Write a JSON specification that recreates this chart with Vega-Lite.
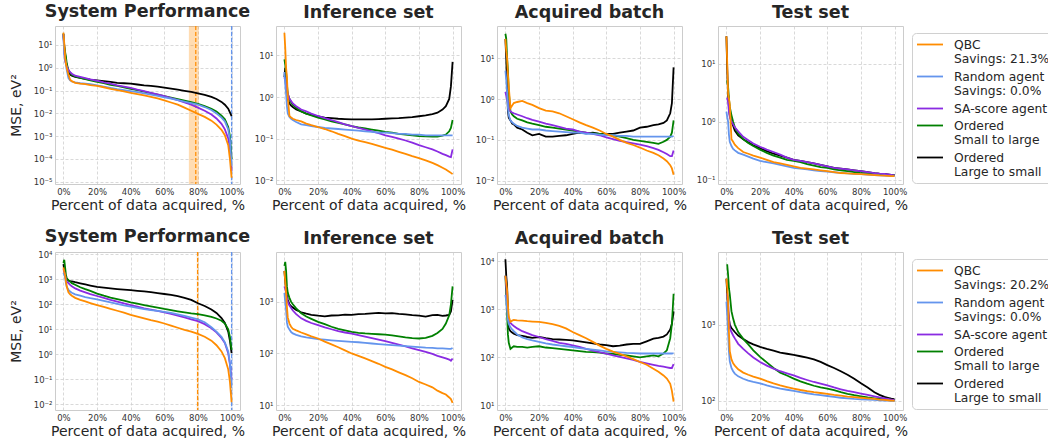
{
  "$schema": "https://vega.github.io/schema/vega-lite/v6.json",
  "background": "white",
  "padding": {"top": 2, "left": 8, "right": 0, "bottom": 0},
  "config": {
    "font": "DejaVu Sans",
    "view": {"stroke": "#cccccc", "strokeWidth": 1},
    "axis": {"domain": false, "ticks": false, "gridColor": "#cfcfcf", "gridDash": [3, 2], "gridWidth": 0.8, "labelColor": "#333333", "labelFontSize": 8.5, "labelPadding": 3, "titleColor": "#262626", "titleFontSize": 14, "titleFontWeight": "normal", "labelFlush": false},
    "axisX": {"titlePadding": 3},
    "axisY": {"titlePadding": 10},
    "title": {"fontSize": 17.5, "fontWeight": "bold", "color": "#262626", "offset": 5},
    "legend": {"orient": "none", "legendX": 857, "legendY": 7, "strokeColor": "#d0d0d0", "cornerRadius": 4, "padding": 4, "symbolType": "M-1,0H3", "symbolSize": 169, "symbolStrokeWidth": 2, "labelFontSize": 12.3, "labelColor": "#262626", "labelOffset": 23, "rowPadding": 3, "labelLimit": 300},
    "line": {"strokeWidth": 1.8, "clip": true}
  },
  "datasets": {
    "a1": [
      {"x":0,"Q":35,"R":30,"S":30,"G":32,"B":30},
      {"x":0.5,"Q":12,"R":4,"S":5,"G":8,"B":10},
      {"x":1,"Q":3,"R":2.5,"S":2,"G":5,"B":4},
      {"x":1.5,"Q":1.5,"R":1.5,"S":1.5,"G":3,"B":2},
      {"x":2,"Q":1,"R":0.8,"S":1.2,"G":1.5,"B":1.2},
      {"x":3,"Q":0.5,"R":0.35,"S":0.8,"G":0.8,"B":0.7},
      {"x":4,"Q":0.3,"R":0.28,"S":0.65,"G":0.6,"B":0.5},
      {"x":5,"Q":0.26,"R":0.25,"S":0.55,"G":0.5,"B":0.45},
      {"x":7,"Q":0.22,"R":0.23,"S":0.45,"G":0.42,"B":0.4},
      {"x":10,"Q":0.2,"R":0.21,"S":0.4,"G":0.36,"B":0.36},
      {"x":13,"Q":0.19,"R":0.2,"S":0.35,"G":0.32,"B":0.33},
      {"x":16,"Q":0.175,"R":0.19,"S":0.31,"G":0.28,"B":0.3},
      {"x":20,"Q":0.16,"R":0.17,"S":0.27,"G":0.24,"B":0.28},
      {"x":24,"Q":0.14,"R":0.15,"S":0.23,"G":0.21,"B":0.26},
      {"x":28,"Q":0.12,"R":0.13,"S":0.2,"G":0.18,"B":0.24},
      {"x":32,"Q":0.105,"R":0.115,"S":0.17,"G":0.16,"B":0.22},
      {"x":36,"Q":0.092,"R":0.105,"S":0.15,"G":0.14,"B":0.21},
      {"x":40,"Q":0.08,"R":0.095,"S":0.13,"G":0.12,"B":0.2},
      {"x":44,"Q":0.07,"R":0.085,"S":0.11,"G":0.105,"B":0.185},
      {"x":48,"Q":0.061,"R":0.075,"S":0.095,"G":0.09,"B":0.17},
      {"x":52,"Q":0.053,"R":0.066,"S":0.08,"G":0.078,"B":0.16},
      {"x":56,"Q":0.045,"R":0.058,"S":0.068,"G":0.067,"B":0.148},
      {"x":60,"Q":0.037,"R":0.05,"S":0.057,"G":0.057,"B":0.135},
      {"x":64,"Q":0.03,"R":0.044,"S":0.047,"G":0.049,"B":0.122},
      {"x":68,"Q":0.024,"R":0.038,"S":0.038,"G":0.042,"B":0.11},
      {"x":72,"Q":0.018,"R":0.033,"S":0.03,"G":0.036,"B":0.098},
      {"x":76,"Q":0.013,"R":0.028,"S":0.024,"G":0.031,"B":0.087},
      {"x":80,"Q":0.0095,"R":0.024,"S":0.018,"G":0.026,"B":0.076},
      {"x":84,"Q":0.007,"R":0.019,"S":0.013,"G":0.021,"B":0.065},
      {"x":88,"Q":0.0048,"R":0.014,"S":0.009,"G":0.016,"B":0.053},
      {"x":91,"Q":0.0032,"R":0.01,"S":0.006,"G":0.012,"B":0.043},
      {"x":94,"Q":0.0019,"R":0.0065,"S":0.0035,"G":0.008,"B":0.032},
      {"x":96,"Q":0.0011,"R":0.0045,"S":0.002,"G":0.0055,"B":0.024},
      {"x":98,"Q":0.0004,"R":0.002,"S":0.0008,"G":0.0025,"B":0.016},
      {"x":99,"Q":0.0001,"R":0.0007,"S":0.0003,"G":0.001,"B":0.011},
      {"x":100,"Q":0.000015,"R":0.00005,"S":0.00003,"G":0.0001,"B":0.0075}
    ],
    "a2": [
      {"x":0,"Q":35,"R":4,"S":3,"G":8,"B":3},
      {"x":0.5,"Q":15,"R":2,"S":2.5,"G":6,"B":5},
      {"x":1,"Q":5,"R":1.2,"S":2,"G":4,"B":2},
      {"x":1.5,"Q":3,"R":0.6,"S":1.5,"G":2,"B":1.2},
      {"x":2,"Q":1,"R":0.4,"S":1.2,"G":1.2,"B":0.9},
      {"x":3,"Q":0.35,"R":0.33,"S":0.9,"G":0.9,"B":0.7},
      {"x":4,"Q":0.32,"R":0.3,"S":0.8,"G":0.75,"B":0.62},
      {"x":5,"Q":0.3,"R":0.28,"S":0.7,"G":0.65,"B":0.57},
      {"x":7,"Q":0.28,"R":0.25,"S":0.6,"G":0.55,"B":0.5},
      {"x":10,"Q":0.26,"R":0.22,"S":0.5,"G":0.45,"B":0.45},
      {"x":13,"Q":0.23,"R":0.21,"S":0.45,"G":0.4,"B":0.4},
      {"x":16,"Q":0.21,"R":0.2,"S":0.4,"G":0.36,"B":0.37},
      {"x":20,"Q":0.19,"R":0.19,"S":0.35,"G":0.32,"B":0.34},
      {"x":24,"Q":0.17,"R":0.18,"S":0.31,"G":0.29,"B":0.32},
      {"x":28,"Q":0.15,"R":0.175,"S":0.28,"G":0.26,"B":0.31},
      {"x":32,"Q":0.13,"R":0.17,"S":0.25,"G":0.24,"B":0.3},
      {"x":36,"Q":0.115,"R":0.165,"S":0.22,"G":0.22,"B":0.295},
      {"x":40,"Q":0.1,"R":0.16,"S":0.2,"G":0.2,"B":0.29},
      {"x":44,"Q":0.09,"R":0.155,"S":0.18,"G":0.185,"B":0.29},
      {"x":48,"Q":0.082,"R":0.15,"S":0.165,"G":0.175,"B":0.29},
      {"x":52,"Q":0.075,"R":0.145,"S":0.15,"G":0.165,"B":0.29},
      {"x":56,"Q":0.067,"R":0.14,"S":0.135,"G":0.155,"B":0.295},
      {"x":60,"Q":0.06,"R":0.14,"S":0.12,"G":0.145,"B":0.3},
      {"x":64,"Q":0.054,"R":0.135,"S":0.11,"G":0.14,"B":0.305},
      {"x":68,"Q":0.048,"R":0.13,"S":0.1,"G":0.13,"B":0.31},
      {"x":72,"Q":0.043,"R":0.13,"S":0.09,"G":0.125,"B":0.32},
      {"x":76,"Q":0.038,"R":0.125,"S":0.08,"G":0.12,"B":0.33},
      {"x":80,"Q":0.034,"R":0.125,"S":0.07,"G":0.115,"B":0.345},
      {"x":84,"Q":0.03,"R":0.12,"S":0.062,"G":0.113,"B":0.36},
      {"x":88,"Q":0.026,"R":0.12,"S":0.055,"G":0.112,"B":0.39},
      {"x":91,"Q":0.023,"R":0.12,"S":0.049,"G":0.112,"B":0.42},
      {"x":94,"Q":0.02,"R":0.12,"S":0.043,"G":0.118,"B":0.5},
      {"x":96,"Q":0.018,"R":0.12,"S":0.04,"G":0.125,"B":0.6},
      {"x":98,"Q":0.016,"R":0.12,"S":0.037,"G":0.15,"B":0.9},
      {"x":99,"Q":0.015,"R":0.12,"S":0.036,"G":0.18,"B":1.8},
      {"x":100,"Q":0.014,"R":0.12,"S":0.055,"G":0.28,"B":7}
    ],
    "a3": [
      {"x":0,"Q":30,"R":5,"S":1.5,"G":40,"B":30},
      {"x":0.5,"Q":15,"R":3,"S":1.2,"G":30,"B":10},
      {"x":1,"Q":10,"R":1.5,"S":1,"G":10,"B":2},
      {"x":1.5,"Q":4,"R":0.6,"S":0.8,"G":5,"B":0.5},
      {"x":2,"Q":2,"R":0.4,"S":0.6,"G":1.5,"B":0.35},
      {"x":3,"Q":0.6,"R":0.3,"S":0.5,"G":0.5,"B":0.3},
      {"x":4,"Q":0.7,"R":0.27,"S":0.47,"G":0.42,"B":0.25},
      {"x":5,"Q":0.8,"R":0.25,"S":0.45,"G":0.38,"B":0.24},
      {"x":7,"Q":0.85,"R":0.22,"S":0.42,"G":0.33,"B":0.2},
      {"x":10,"Q":0.9,"R":0.2,"S":0.38,"G":0.3,"B":0.18},
      {"x":13,"Q":0.8,"R":0.19,"S":0.34,"G":0.27,"B":0.15},
      {"x":16,"Q":0.72,"R":0.18,"S":0.31,"G":0.25,"B":0.13},
      {"x":20,"Q":0.6,"R":0.18,"S":0.28,"G":0.23,"B":0.14},
      {"x":24,"Q":0.52,"R":0.17,"S":0.25,"G":0.21,"B":0.12},
      {"x":28,"Q":0.5,"R":0.165,"S":0.23,"G":0.2,"B":0.12},
      {"x":32,"Q":0.45,"R":0.16,"S":0.21,"G":0.19,"B":0.125},
      {"x":36,"Q":0.38,"R":0.155,"S":0.19,"G":0.18,"B":0.13},
      {"x":40,"Q":0.32,"R":0.15,"S":0.18,"G":0.17,"B":0.14},
      {"x":44,"Q":0.27,"R":0.15,"S":0.16,"G":0.16,"B":0.15},
      {"x":48,"Q":0.23,"R":0.14,"S":0.15,"G":0.15,"B":0.145},
      {"x":52,"Q":0.2,"R":0.14,"S":0.14,"G":0.145,"B":0.15},
      {"x":56,"Q":0.17,"R":0.135,"S":0.13,"G":0.14,"B":0.14},
      {"x":60,"Q":0.14,"R":0.13,"S":0.115,"G":0.135,"B":0.14},
      {"x":64,"Q":0.12,"R":0.13,"S":0.105,"G":0.13,"B":0.14},
      {"x":68,"Q":0.1,"R":0.125,"S":0.095,"G":0.12,"B":0.15},
      {"x":72,"Q":0.085,"R":0.125,"S":0.088,"G":0.11,"B":0.16},
      {"x":76,"Q":0.075,"R":0.12,"S":0.082,"G":0.1,"B":0.17},
      {"x":80,"Q":0.065,"R":0.12,"S":0.077,"G":0.095,"B":0.2},
      {"x":84,"Q":0.055,"R":0.12,"S":0.07,"G":0.09,"B":0.21},
      {"x":88,"Q":0.048,"R":0.12,"S":0.063,"G":0.085,"B":0.23},
      {"x":91,"Q":0.042,"R":0.12,"S":0.057,"G":0.08,"B":0.24},
      {"x":94,"Q":0.035,"R":0.12,"S":0.05,"G":0.09,"B":0.26},
      {"x":96,"Q":0.03,"R":0.12,"S":0.045,"G":0.1,"B":0.3},
      {"x":98,"Q":0.024,"R":0.12,"S":0.04,"G":0.12,"B":0.45},
      {"x":99,"Q":0.02,"R":0.12,"S":0.04,"G":0.15,"B":0.8},
      {"x":100,"Q":0.014,"R":0.125,"S":0.055,"G":0.3,"B":6}
    ],
    "a4": [
      {"x":0,"Q":30,"R":1.5,"S":2.5,"G":5,"B":30},
      {"x":0.5,"Q":10,"R":1.2,"S":2.5,"G":5,"B":8},
      {"x":1,"Q":3,"R":1,"S":2.2,"G":4,"B":3},
      {"x":1.5,"Q":2.5,"R":0.6,"S":1.5,"G":2.5,"B":1.8},
      {"x":2,"Q":2,"R":0.45,"S":1.2,"G":1.8,"B":1.3},
      {"x":3,"Q":0.5,"R":0.38,"S":1,"G":1.3,"B":1},
      {"x":4,"Q":0.45,"R":0.34,"S":0.9,"G":1,"B":0.85},
      {"x":5,"Q":0.4,"R":0.32,"S":0.8,"G":0.8,"B":0.7},
      {"x":7,"Q":0.35,"R":0.29,"S":0.68,"G":0.62,"B":0.58},
      {"x":10,"Q":0.3,"R":0.27,"S":0.55,"G":0.5,"B":0.5},
      {"x":13,"Q":0.28,"R":0.25,"S":0.48,"G":0.43,"B":0.44},
      {"x":16,"Q":0.26,"R":0.23,"S":0.42,"G":0.38,"B":0.39},
      {"x":20,"Q":0.24,"R":0.21,"S":0.37,"G":0.33,"B":0.35},
      {"x":24,"Q":0.22,"R":0.2,"S":0.33,"G":0.29,"B":0.31},
      {"x":28,"Q":0.2,"R":0.19,"S":0.3,"G":0.26,"B":0.28},
      {"x":32,"Q":0.19,"R":0.18,"S":0.27,"G":0.24,"B":0.26},
      {"x":36,"Q":0.18,"R":0.17,"S":0.24,"G":0.22,"B":0.24},
      {"x":40,"Q":0.17,"R":0.16,"S":0.22,"G":0.21,"B":0.22},
      {"x":44,"Q":0.16,"R":0.155,"S":0.21,"G":0.2,"B":0.21},
      {"x":48,"Q":0.155,"R":0.15,"S":0.2,"G":0.185,"B":0.2},
      {"x":52,"Q":0.15,"R":0.145,"S":0.19,"G":0.175,"B":0.19},
      {"x":56,"Q":0.145,"R":0.14,"S":0.18,"G":0.165,"B":0.18},
      {"x":60,"Q":0.14,"R":0.137,"S":0.17,"G":0.16,"B":0.17},
      {"x":64,"Q":0.135,"R":0.134,"S":0.16,"G":0.15,"B":0.16},
      {"x":68,"Q":0.13,"R":0.131,"S":0.155,"G":0.145,"B":0.155},
      {"x":72,"Q":0.128,"R":0.128,"S":0.15,"G":0.14,"B":0.15},
      {"x":76,"Q":0.126,"R":0.126,"S":0.145,"G":0.135,"B":0.145},
      {"x":80,"Q":0.124,"R":0.124,"S":0.14,"G":0.13,"B":0.14},
      {"x":84,"Q":0.122,"R":0.122,"S":0.135,"G":0.128,"B":0.135},
      {"x":88,"Q":0.12,"R":0.12,"S":0.13,"G":0.126,"B":0.13},
      {"x":91,"Q":0.118,"R":0.118,"S":0.127,"G":0.124,"B":0.127},
      {"x":94,"Q":0.117,"R":0.117,"S":0.125,"G":0.122,"B":0.125},
      {"x":96,"Q":0.116,"R":0.116,"S":0.123,"G":0.121,"B":0.123},
      {"x":98,"Q":0.115,"R":0.115,"S":0.121,"G":0.12,"B":0.121},
      {"x":99,"Q":0.115,"R":0.115,"S":0.12,"G":0.12,"B":0.12},
      {"x":100,"Q":0.115,"R":0.115,"S":0.12,"G":0.12,"B":0.12}
    ],
    "b1": [
      {"x":0,"Q":3000,"R":1800,"S":2500,"G":4500,"B":4000},
      {"x":0.5,"Q":2000,"R":1500,"S":2000,"G":6000,"B":2500},
      {"x":1,"Q":1500,"R":1200,"S":1500,"G":3000,"B":1500},
      {"x":1.5,"Q":800,"R":700,"S":1000,"G":1500,"B":1200},
      {"x":2,"Q":500,"R":500,"S":800,"G":1100,"B":1000},
      {"x":3,"Q":300,"R":380,"S":700,"G":900,"B":900},
      {"x":4,"Q":250,"R":320,"S":600,"G":800,"B":850},
      {"x":5,"Q":220,"R":290,"S":520,"G":700,"B":830},
      {"x":7,"Q":180,"R":250,"S":430,"G":600,"B":760},
      {"x":10,"Q":150,"R":220,"S":350,"G":480,"B":690},
      {"x":13,"Q":130,"R":195,"S":300,"G":400,"B":620},
      {"x":16,"Q":112,"R":175,"S":255,"G":340,"B":560},
      {"x":20,"Q":93,"R":158,"S":214,"G":268,"B":494},
      {"x":24,"Q":78,"R":137,"S":180,"G":220,"B":460},
      {"x":28,"Q":65,"R":118,"S":150,"G":185,"B":430},
      {"x":32,"Q":55,"R":103,"S":128,"G":160,"B":405},
      {"x":36,"Q":46,"R":90,"S":108,"G":140,"B":385},
      {"x":40,"Q":38,"R":80,"S":93,"G":120,"B":365},
      {"x":44,"Q":32,"R":71,"S":80,"G":105,"B":345},
      {"x":48,"Q":27,"R":64,"S":69,"G":93,"B":325},
      {"x":52,"Q":23,"R":58,"S":61,"G":83,"B":305},
      {"x":56,"Q":20,"R":54,"S":54,"G":74,"B":280},
      {"x":60,"Q":17,"R":50,"S":47,"G":65,"B":257},
      {"x":64,"Q":14,"R":45,"S":41,"G":58,"B":235},
      {"x":68,"Q":11.5,"R":39,"S":35,"G":52,"B":210},
      {"x":72,"Q":9.5,"R":34,"S":30,"G":47,"B":180},
      {"x":76,"Q":8,"R":29,"S":25,"G":43,"B":150},
      {"x":80,"Q":6.5,"R":25,"S":21,"G":40,"B":110},
      {"x":84,"Q":5,"R":19,"S":16,"G":36,"B":85},
      {"x":88,"Q":3.5,"R":12,"S":11,"G":31,"B":62},
      {"x":91,"Q":2.3,"R":8,"S":7.5,"G":27,"B":45},
      {"x":94,"Q":1.3,"R":5,"S":4.5,"G":22,"B":28},
      {"x":96,"Q":0.7,"R":3,"S":2.8,"G":17,"B":18},
      {"x":98,"Q":0.25,"R":1.3,"S":1.1,"G":10,"B":8},
      {"x":99,"Q":0.08,"R":0.45,"S":0.4,"G":5,"B":3.5},
      {"x":100,"Q":0.012,"R":0.06,"S":0.1,"G":1.5,"B":1.1}
    ],
    "b2": [
      {"x":0,"Q":4000,"R":1500,"S":2000,"G":5000,"B":4000},
      {"x":0.5,"Q":2500,"R":1000,"S":1800,"G":6000,"B":2500},
      {"x":1,"Q":1500,"R":700,"S":1500,"G":4000,"B":1800},
      {"x":1.5,"Q":800,"R":400,"S":1200,"G":2000,"B":1300},
      {"x":2,"Q":500,"R":330,"S":1000,"G":1500,"B":1100},
      {"x":3,"Q":380,"R":290,"S":850,"G":1200,"B":900},
      {"x":4,"Q":330,"R":260,"S":760,"G":1000,"B":820},
      {"x":5,"Q":300,"R":245,"S":680,"G":900,"B":780},
      {"x":7,"Q":280,"R":230,"S":580,"G":750,"B":700},
      {"x":10,"Q":255,"R":215,"S":480,"G":600,"B":630},
      {"x":13,"Q":235,"R":205,"S":430,"G":520,"B":590},
      {"x":16,"Q":215,"R":198,"S":390,"G":470,"B":560},
      {"x":20,"Q":195,"R":190,"S":354,"G":410,"B":540},
      {"x":24,"Q":170,"R":185,"S":320,"G":370,"B":525},
      {"x":28,"Q":150,"R":180,"S":295,"G":330,"B":545},
      {"x":32,"Q":132,"R":176,"S":270,"G":300,"B":550},
      {"x":36,"Q":115,"R":172,"S":255,"G":280,"B":565},
      {"x":40,"Q":100,"R":168,"S":243,"G":262,"B":560},
      {"x":44,"Q":90,"R":165,"S":228,"G":252,"B":580},
      {"x":48,"Q":80,"R":160,"S":212,"G":245,"B":585},
      {"x":52,"Q":71,"R":156,"S":198,"G":240,"B":600},
      {"x":56,"Q":63,"R":152,"S":185,"G":236,"B":615},
      {"x":60,"Q":55,"R":148,"S":173,"G":232,"B":600},
      {"x":64,"Q":49,"R":145,"S":160,"G":225,"B":605},
      {"x":68,"Q":43,"R":142,"S":148,"G":215,"B":585},
      {"x":72,"Q":38,"R":139,"S":137,"G":205,"B":575},
      {"x":76,"Q":33,"R":136,"S":126,"G":198,"B":555},
      {"x":80,"Q":28,"R":133,"S":116,"G":195,"B":540},
      {"x":84,"Q":25,"R":130,"S":107,"G":200,"B":520},
      {"x":88,"Q":22,"R":128,"S":98,"G":220,"B":555},
      {"x":91,"Q":19,"R":126,"S":90,"G":250,"B":560},
      {"x":94,"Q":17,"R":125,"S":84,"G":300,"B":535},
      {"x":96,"Q":16,"R":124,"S":80,"G":380,"B":545},
      {"x":98,"Q":14,"R":123,"S":76,"G":550,"B":560},
      {"x":99,"Q":13,"R":123,"S":72,"G":900,"B":650},
      {"x":100,"Q":11,"R":128,"S":80,"G":2000,"B":1100}
    ],
    "b3": [
      {"x":0,"Q":5000,"R":2000,"S":5000,"G":5000,"B":11000},
      {"x":0.5,"Q":3500,"R":1500,"S":3000,"G":2000,"B":5000},
      {"x":1,"Q":2500,"R":1000,"S":1500,"G":800,"B":3000},
      {"x":1.5,"Q":1200,"R":600,"S":800,"G":300,"B":1000},
      {"x":2,"Q":700,"R":500,"S":600,"G":200,"B":400},
      {"x":3,"Q":550,"R":420,"S":520,"G":150,"B":350},
      {"x":4,"Q":580,"R":380,"S":480,"G":160,"B":330},
      {"x":5,"Q":600,"R":350,"S":450,"G":170,"B":310},
      {"x":7,"Q":590,"R":300,"S":400,"G":165,"B":290},
      {"x":10,"Q":580,"R":260,"S":350,"G":165,"B":280},
      {"x":13,"Q":565,"R":240,"S":320,"G":160,"B":265},
      {"x":16,"Q":555,"R":225,"S":290,"G":165,"B":255},
      {"x":20,"Q":545,"R":209,"S":265,"G":170,"B":265},
      {"x":24,"Q":520,"R":195,"S":240,"G":160,"B":250},
      {"x":28,"Q":490,"R":185,"S":220,"G":155,"B":240},
      {"x":32,"Q":450,"R":177,"S":200,"G":150,"B":235},
      {"x":36,"Q":400,"R":170,"S":190,"G":145,"B":230},
      {"x":40,"Q":337,"R":164,"S":178,"G":140,"B":225},
      {"x":44,"Q":290,"R":156,"S":165,"G":135,"B":215},
      {"x":48,"Q":250,"R":150,"S":150,"G":130,"B":205},
      {"x":52,"Q":210,"R":145,"S":138,"G":128,"B":195},
      {"x":56,"Q":175,"R":139,"S":128,"G":125,"B":185},
      {"x":60,"Q":150,"R":133,"S":120,"G":120,"B":180},
      {"x":64,"Q":132,"R":130,"S":110,"G":118,"B":170},
      {"x":68,"Q":118,"R":127,"S":102,"G":112,"B":175},
      {"x":72,"Q":105,"R":124,"S":95,"G":110,"B":185},
      {"x":76,"Q":92,"R":122,"S":88,"G":105,"B":190},
      {"x":80,"Q":80,"R":120,"S":80,"G":100,"B":190},
      {"x":84,"Q":70,"R":120,"S":75,"G":105,"B":215},
      {"x":88,"Q":58,"R":120,"S":70,"G":110,"B":245},
      {"x":91,"Q":50,"R":120,"S":66,"G":105,"B":255},
      {"x":94,"Q":42,"R":120,"S":64,"G":120,"B":270},
      {"x":96,"Q":36,"R":120,"S":62,"G":140,"B":300},
      {"x":98,"Q":28,"R":120,"S":60,"G":250,"B":380},
      {"x":99,"Q":20,"R":120,"S":60,"G":500,"B":500},
      {"x":100,"Q":12,"R":122,"S":72,"G":2100,"B":900}
    ],
    "b4": [
      {"x":0,"Q":4000,"R":2000,"S":2500,"G":6000,"B":4000},
      {"x":0.5,"Q":3000,"R":1300,"S":2500,"G":6000,"B":2500},
      {"x":1,"Q":2000,"R":800,"S":2000,"G":4500,"B":1500},
      {"x":1.5,"Q":800,"R":450,"S":1200,"G":3000,"B":1200},
      {"x":2,"Q":450,"R":330,"S":900,"G":2500,"B":1000},
      {"x":3,"Q":350,"R":270,"S":800,"G":1500,"B":900},
      {"x":4,"Q":310,"R":245,"S":720,"G":1200,"B":850},
      {"x":5,"Q":290,"R":228,"S":660,"G":1000,"B":800},
      {"x":7,"Q":260,"R":210,"S":560,"G":800,"B":720},
      {"x":10,"Q":235,"R":195,"S":480,"G":650,"B":650},
      {"x":13,"Q":220,"R":185,"S":420,"G":550,"B":590},
      {"x":16,"Q":208,"R":178,"S":370,"G":460,"B":550},
      {"x":20,"Q":196,"R":170,"S":324,"G":377,"B":510},
      {"x":24,"Q":182,"R":160,"S":290,"G":320,"B":480},
      {"x":28,"Q":170,"R":152,"S":265,"G":270,"B":455},
      {"x":32,"Q":160,"R":145,"S":245,"G":235,"B":430},
      {"x":36,"Q":152,"R":140,"S":230,"G":215,"B":415},
      {"x":40,"Q":145,"R":135,"S":216,"G":196,"B":400},
      {"x":44,"Q":139,"R":130,"S":200,"G":180,"B":385},
      {"x":48,"Q":134,"R":126,"S":188,"G":168,"B":370},
      {"x":52,"Q":130,"R":122,"S":177,"G":158,"B":350},
      {"x":56,"Q":127,"R":119,"S":168,"G":150,"B":325},
      {"x":60,"Q":124,"R":116,"S":160,"G":145,"B":295},
      {"x":64,"Q":120,"R":113,"S":150,"G":138,"B":270},
      {"x":68,"Q":117,"R":110,"S":142,"G":130,"B":245},
      {"x":72,"Q":114,"R":108,"S":135,"G":124,"B":220},
      {"x":76,"Q":112,"R":106,"S":130,"G":119,"B":195},
      {"x":80,"Q":110,"R":105,"S":125,"G":115,"B":170},
      {"x":84,"Q":108,"R":104,"S":120,"G":111,"B":150},
      {"x":88,"Q":106,"R":103,"S":115,"G":108,"B":130},
      {"x":91,"Q":104,"R":102,"S":111,"G":106,"B":120},
      {"x":94,"Q":103,"R":101,"S":108,"G":104,"B":113},
      {"x":96,"Q":102,"R":101,"S":106,"G":103,"B":110},
      {"x":98,"Q":101,"R":100,"S":104,"G":102,"B":107},
      {"x":99,"Q":101,"R":100,"S":103,"G":102,"B":106},
      {"x":100,"Q":100,"R":100,"S":103,"G":102,"B":105}
    ]
  },
  "resolve": {"scale": {"color": "independent"}, "legend": {"color": "independent"}},
  "spacing": 14,
  "vconcat": [
    {
      "spacing": 36,
      "bounds": "flush",
      "resolve": {"scale": {"color": "shared"}, "legend": {"color": "shared"}},
      "hconcat": [
        {
          "title": "System Performance",
          "width": 185, "height": 158,
          "encoding": {"x": {"field": "x", "type": "quantitative", "scale": {"domain": [-5, 105], "nice": false, "zero": false}, "axis": {"values": [0, 20, 40, 60, 80, 100], "labelExpr": "datum.value + '%'", "title": "Percent of data acquired, %"}}},
          "layer": [
            {"data": {"values": [{"x": 74.6, "x2": 80.5}]}, "mark": {"type": "rect", "color": "#ff8c00", "opacity": 0.3}, "encoding": {"x2": {"field": "x2"}}},
            {"data": {"values": [{"x": 99.6, "x2": 100.4}]}, "mark": {"type": "rect", "color": "#6495ed", "opacity": 0.3}, "encoding": {"x2": {"field": "x2"}}},
            {"data": {"values": [{"x": 78.7}]}, "mark": {"type": "rule", "color": "#ff8c00", "strokeDash": [4, 2], "strokeWidth": 1.2}, "encoding": {}},
            {"data": {"values": [{"x": 100}]}, "mark": {"type": "rule", "color": "#6495ed", "strokeDash": [4, 2], "strokeWidth": 1.2}, "encoding": {}},
            {
              "data": {"name": "a1"},
              "transform": [{"fold": ["B", "G", "S", "R", "Q"], "as": ["s", "v"]}],
              "mark": "line",
              "encoding": {
                "y": {"field": "v", "type": "quantitative", "scale": {"type": "log", "domain": [0.000008, 68], "nice": false}, "axis": {"values": [0.00001, 0.0001, 0.001, 0.01, 0.1, 1, 10], "labelExpr": "'10' + (datum.value < 1 ? '⁻' : '') + substring('⁰¹²³⁴⁵⁶⁷⁸⁹', abs(round(log(datum.value) / LN10)), abs(round(log(datum.value) / LN10)) + 1)", "title": "MSE, eV²"}},
                "color": {"field": "s", "type": "nominal", "scale": {"domain": ["Q", "R", "S", "G", "B"], "range": ["#ff8c00", "#6495ed", "#8a2be2", "#008000", "#000000"]}, "legend": {"title": null, "labelExpr": "{'Q': ['QBC', 'Savings: 21.3%'], 'R': ['Random agent', 'Savings: 0.0%'], 'S': 'SA-score agent', 'G': ['Ordered', 'Small to large'], 'B': ['Ordered', 'Large to small']}[datum.value]"}}
              }
            }
          ]
        },
        {
          "title": "Inference set",
          "width": 185, "height": 158,
          "data": {"name": "a2"},
          "transform": [{"fold": ["B", "G", "S", "R", "Q"], "as": ["s", "v"]}],
          "mark": "line",
          "encoding": {
            "x": {"field": "x", "type": "quantitative", "scale": {"domain": [-5, 105], "nice": false, "zero": false}, "axis": {"values": [0, 20, 40, 60, 80, 100], "labelExpr": "datum.value + '%'", "title": "Percent of data acquired, %"}},
            "y": {"field": "v", "type": "quantitative", "scale": {"type": "log", "domain": [0.0081, 51], "nice": false}, "axis": {"values": [0.01, 0.1, 1, 10], "labelExpr": "'10' + (datum.value < 1 ? '⁻' : '') + substring('⁰¹²³⁴⁵⁶⁷⁸⁹', abs(round(log(datum.value) / LN10)), abs(round(log(datum.value) / LN10)) + 1)", "title": null}},
            "color": {"field": "s", "type": "nominal", "scale": {"domain": ["Q", "R", "S", "G", "B"], "range": ["#ff8c00", "#6495ed", "#8a2be2", "#008000", "#000000"]}, "legend": {"title": null, "labelExpr": "{'Q': ['QBC', 'Savings: 21.3%'], 'R': ['Random agent', 'Savings: 0.0%'], 'S': 'SA-score agent', 'G': ['Ordered', 'Small to large'], 'B': ['Ordered', 'Large to small']}[datum.value]"}}
          }
        },
        {
          "title": "Acquired batch",
          "width": 185, "height": 158,
          "data": {"name": "a3"},
          "transform": [{"fold": ["B", "G", "S", "R", "Q"], "as": ["s", "v"]}],
          "mark": "line",
          "encoding": {
            "x": {"field": "x", "type": "quantitative", "scale": {"domain": [-5, 105], "nice": false, "zero": false}, "axis": {"values": [0, 20, 40, 60, 80, 100], "labelExpr": "datum.value + '%'", "title": "Percent of data acquired, %"}},
            "y": {"field": "v", "type": "quantitative", "scale": {"type": "log", "domain": [0.0083, 62], "nice": false}, "axis": {"values": [0.01, 0.1, 1, 10], "labelExpr": "'10' + (datum.value < 1 ? '⁻' : '') + substring('⁰¹²³⁴⁵⁶⁷⁸⁹', abs(round(log(datum.value) / LN10)), abs(round(log(datum.value) / LN10)) + 1)", "title": null}},
            "color": {"field": "s", "type": "nominal", "scale": {"domain": ["Q", "R", "S", "G", "B"], "range": ["#ff8c00", "#6495ed", "#8a2be2", "#008000", "#000000"]}, "legend": {"title": null, "labelExpr": "{'Q': ['QBC', 'Savings: 21.3%'], 'R': ['Random agent', 'Savings: 0.0%'], 'S': 'SA-score agent', 'G': ['Ordered', 'Small to large'], 'B': ['Ordered', 'Large to small']}[datum.value]"}}
          }
        },
        {
          "title": "Test set",
          "width": 185, "height": 158,
          "data": {"name": "a4"},
          "transform": [{"fold": ["B", "G", "S", "R", "Q"], "as": ["s", "v"]}],
          "mark": "line",
          "encoding": {
            "x": {"field": "x", "type": "quantitative", "scale": {"domain": [-5, 105], "nice": false, "zero": false}, "axis": {"values": [0, 20, 40, 60, 80, 100], "labelExpr": "datum.value + '%'", "title": "Percent of data acquired, %"}},
            "y": {"field": "v", "type": "quantitative", "scale": {"type": "log", "domain": [0.084, 45], "nice": false}, "axis": {"values": [0.1, 1, 10], "labelExpr": "'10' + (datum.value < 1 ? '⁻' : '') + substring('⁰¹²³⁴⁵⁶⁷⁸⁹', abs(round(log(datum.value) / LN10)), abs(round(log(datum.value) / LN10)) + 1)", "title": null}},
            "color": {"field": "s", "type": "nominal", "scale": {"domain": ["Q", "R", "S", "G", "B"], "range": ["#ff8c00", "#6495ed", "#8a2be2", "#008000", "#000000"]}, "legend": {"title": null, "labelExpr": "{'Q': ['QBC', 'Savings: 21.3%'], 'R': ['Random agent', 'Savings: 0.0%'], 'S': 'SA-score agent', 'G': ['Ordered', 'Small to large'], 'B': ['Ordered', 'Large to small']}[datum.value]"}}
          }
        }
      ]
    },
    {
      "spacing": 36,
      "bounds": "flush",
      "resolve": {"scale": {"color": "shared"}, "legend": {"color": "shared"}},
      "hconcat": [
        {
          "title": "System Performance",
          "width": 185, "height": 158,
          "encoding": {"x": {"field": "x", "type": "quantitative", "scale": {"domain": [-5, 105], "nice": false, "zero": false}, "axis": {"values": [0, 20, 40, 60, 80, 100], "labelExpr": "datum.value + '%'", "title": "Percent of data acquired, %"}}},
          "layer": [
            {"data": {"values": [{"x": 79.3, "x2": 80.3}]}, "mark": {"type": "rect", "color": "#ff8c00", "opacity": 0.3}, "encoding": {"x2": {"field": "x2"}}},
            {"data": {"values": [{"x": 99.6, "x2": 100.4}]}, "mark": {"type": "rect", "color": "#6495ed", "opacity": 0.3}, "encoding": {"x2": {"field": "x2"}}},
            {"data": {"values": [{"x": 79.8}]}, "mark": {"type": "rule", "color": "#ff8c00", "strokeDash": [4, 2], "strokeWidth": 1.2}, "encoding": {}},
            {"data": {"values": [{"x": 100}]}, "mark": {"type": "rule", "color": "#6495ed", "strokeDash": [4, 2], "strokeWidth": 1.2}, "encoding": {}},
            {
              "data": {"name": "b1"},
              "transform": [{"fold": ["B", "G", "S", "R", "Q"], "as": ["s", "v"]}],
              "mark": "line",
              "encoding": {
                "y": {"field": "v", "type": "quantitative", "scale": {"type": "log", "domain": [0.0059, 12300], "nice": false}, "axis": {"values": [0.01, 0.1, 1, 10, 100, 1000, 10000], "labelExpr": "'10' + (datum.value < 1 ? '⁻' : '') + substring('⁰¹²³⁴⁵⁶⁷⁸⁹', abs(round(log(datum.value) / LN10)), abs(round(log(datum.value) / LN10)) + 1)", "title": "MSE, eV²"}},
                "color": {"field": "s", "type": "nominal", "scale": {"domain": ["Q", "R", "S", "G", "B"], "range": ["#ff8c00", "#6495ed", "#8a2be2", "#008000", "#000000"]}, "legend": {"title": null, "labelExpr": "{'Q': ['QBC', 'Savings: 20.2%'], 'R': ['Random agent', 'Savings: 0.0%'], 'S': 'SA-score agent', 'G': ['Ordered', 'Small to large'], 'B': ['Ordered', 'Large to small']}[datum.value]"}}
              }
            }
          ]
        },
        {
          "title": "Inference set",
          "width": 185, "height": 158,
          "data": {"name": "b2"},
          "transform": [{"fold": ["B", "G", "S", "R", "Q"], "as": ["s", "v"]}],
          "mark": "line",
          "encoding": {
            "x": {"field": "x", "type": "quantitative", "scale": {"domain": [-5, 105], "nice": false, "zero": false}, "axis": {"values": [0, 20, 40, 60, 80, 100], "labelExpr": "datum.value + '%'", "title": "Percent of data acquired, %"}},
            "y": {"field": "v", "type": "quantitative", "scale": {"type": "log", "domain": [8, 9300], "nice": false}, "axis": {"values": [10, 100, 1000], "labelExpr": "'10' + (datum.value < 1 ? '⁻' : '') + substring('⁰¹²³⁴⁵⁶⁷⁸⁹', abs(round(log(datum.value) / LN10)), abs(round(log(datum.value) / LN10)) + 1)", "title": null}},
            "color": {"field": "s", "type": "nominal", "scale": {"domain": ["Q", "R", "S", "G", "B"], "range": ["#ff8c00", "#6495ed", "#8a2be2", "#008000", "#000000"]}, "legend": {"title": null, "labelExpr": "{'Q': ['QBC', 'Savings: 20.2%'], 'R': ['Random agent', 'Savings: 0.0%'], 'S': 'SA-score agent', 'G': ['Ordered', 'Small to large'], 'B': ['Ordered', 'Large to small']}[datum.value]"}}
          }
        },
        {
          "title": "Acquired batch",
          "width": 185, "height": 158,
          "data": {"name": "b3"},
          "transform": [{"fold": ["B", "G", "S", "R", "Q"], "as": ["s", "v"]}],
          "mark": "line",
          "encoding": {
            "x": {"field": "x", "type": "quantitative", "scale": {"domain": [-5, 105], "nice": false, "zero": false}, "axis": {"values": [0, 20, 40, 60, 80, 100], "labelExpr": "datum.value + '%'", "title": "Percent of data acquired, %"}},
            "y": {"field": "v", "type": "quantitative", "scale": {"type": "log", "domain": [8, 15600], "nice": false}, "axis": {"values": [10, 100, 1000, 10000], "labelExpr": "'10' + (datum.value < 1 ? '⁻' : '') + substring('⁰¹²³⁴⁵⁶⁷⁸⁹', abs(round(log(datum.value) / LN10)), abs(round(log(datum.value) / LN10)) + 1)", "title": null}},
            "color": {"field": "s", "type": "nominal", "scale": {"domain": ["Q", "R", "S", "G", "B"], "range": ["#ff8c00", "#6495ed", "#8a2be2", "#008000", "#000000"]}, "legend": {"title": null, "labelExpr": "{'Q': ['QBC', 'Savings: 20.2%'], 'R': ['Random agent', 'Savings: 0.0%'], 'S': 'SA-score agent', 'G': ['Ordered', 'Small to large'], 'B': ['Ordered', 'Large to small']}[datum.value]"}}
          }
        },
        {
          "title": "Test set",
          "width": 185, "height": 158,
          "data": {"name": "b4"},
          "transform": [{"fold": ["B", "G", "S", "R", "Q"], "as": ["s", "v"]}],
          "mark": "line",
          "encoding": {
            "x": {"field": "x", "type": "quantitative", "scale": {"domain": [-5, 105], "nice": false, "zero": false}, "axis": {"values": [0, 20, 40, 60, 80, 100], "labelExpr": "datum.value + '%'", "title": "Percent of data acquired, %"}},
            "y": {"field": "v", "type": "quantitative", "scale": {"type": "log", "domain": [76, 8950], "nice": false}, "axis": {"values": [100, 1000], "labelExpr": "'10' + (datum.value < 1 ? '⁻' : '') + substring('⁰¹²³⁴⁵⁶⁷⁸⁹', abs(round(log(datum.value) / LN10)), abs(round(log(datum.value) / LN10)) + 1)", "title": null}},
            "color": {"field": "s", "type": "nominal", "scale": {"domain": ["Q", "R", "S", "G", "B"], "range": ["#ff8c00", "#6495ed", "#8a2be2", "#008000", "#000000"]}, "legend": {"title": null, "labelExpr": "{'Q': ['QBC', 'Savings: 20.2%'], 'R': ['Random agent', 'Savings: 0.0%'], 'S': 'SA-score agent', 'G': ['Ordered', 'Small to large'], 'B': ['Ordered', 'Large to small']}[datum.value]"}}
          }
        }
      ]
    }
  ]
}
